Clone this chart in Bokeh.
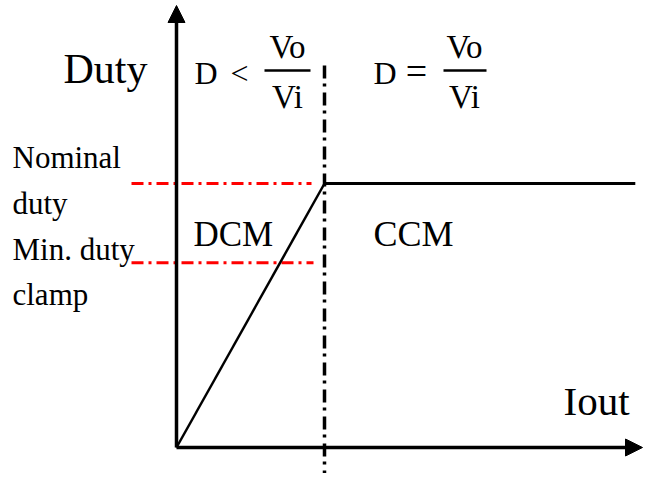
from bokeh.plotting import figure
from bokeh.models import Range1d, Arrow, NormalHead
from bokeh.core.properties import value
from bokeh.embed import file_html
from bokeh.resources import INLINE

# ---- data (normalised units) ----
iout_curve = [0.0, 1.0, 3.1]        # Iout: origin, DCM/CCM boundary, end of curve
duty_curve = [0.0, 0.6, 0.6]        # Duty rises in DCM, flat at nominal in CCM
ccm_boundary = 1.0
nominal_duty = 0.6
min_duty_clamp = 0.42
region_labels = ["DCM", "CCM"]
side_labels = ["Nominal", "duty", "Min. duty", "clamp"]

# ---- layout helpers (pixel -> data) ----
W, H = 644, 473
OX, OY = 176, 447          # origin on picture
SX, SY = 148.0, 440.0      # px per unit
def X(px): return (px - OX) / SX
def Y(py): return (OY - py) / SY

x0 = X(0); x1 = x0 + W / SX
y1 = Y(0); y0 = y1 - H / SY

p = figure(width=W, height=H, output_backend="svg", toolbar_location=None,
           x_range=Range1d(x0, x1), y_range=Range1d(y0, y1),
           x_axis_location=None, y_axis_location=None, min_border=0)
p.grid.visible = False
p.outline_line_color = None
p.background_fill_color = "white"
p.border_fill_color = "white"

FONT = value("Liberation Serif")

# red dash-dot reference lines
p.line(x=[X(131), X(311)], y=[nominal_duty] * 2, line_color="#ff0000",
       line_width=3, line_dash="12 5 3 5")
p.line(x=[X(131), X(313)], y=[min_duty_clamp] * 2, line_color="#ff0000",
       line_width=3, line_dash="12 5 3 5")

# vertical DCM/CCM boundary
p.line(x=[ccm_boundary] * 2, y=[Y(65), y0], line_color="black",
       line_width=3.5, line_dash="13 5 3 6")

# duty curve
p.line(x=iout_curve[:2], y=duty_curve[:2], line_color="black", line_width=2.5)
p.line(x=iout_curve[1:], y=duty_curve[1:], line_color="black", line_width=3)

# axes with arrows
p.add_layout(Arrow(end=NormalHead(size=17, fill_color="black", line_color="black", line_width=1),
                   x_start=0, y_start=0, x_end=0, y_end=Y(5),
                   line_color="black", line_width=3.5))
p.add_layout(Arrow(end=NormalHead(size=17, fill_color="black", line_color="black", line_width=1),
                   x_start=0, y_start=0, x_end=X(642), y_end=0,
                   line_color="black", line_width=3.5))

def txt(x_px, base_px, s, size, align="left"):
    # small empirical lift so the rendered baseline sits where intended
    p.text(x=[X(x_px)], y=[Y(base_px - 0.31 * size)], text=[s], text_font=FONT,
           text_font_size=f"{size}px", text_color="black",
           text_align=align, text_baseline="alphabetic")

# axis titles
txt(63, 82, "Duty", 42)
txt(563, 413, "Iout", 41)

# formulas
txt(194, 82, "D", 32)
txt(239, 82, "<", 32, "center")
txt(287, 57, "Vo", 33, "center")
txt(287, 107, "Vi", 33, "center")
p.line(x=[X(264), X(310)], y=[Y(70)] * 2, line_color="black", line_width=2.5)

txt(373, 82, "D", 32)
txt(416, 82, "=", 38, "center")
txt(464, 57, "Vo", 33, "center")
txt(464, 107, "Vi", 33, "center")
p.line(x=[X(443), X(486)], y=[Y(70)] * 2, line_color="black", line_width=2.5)

# region labels
txt(193, 245, region_labels[0], 35)
txt(373, 245, region_labels[1], 36)

# side labels
for s, b in zip(side_labels, [167, 213, 259, 304]):
    txt(12, b, s, 31)

open("out.html", "w").write(file_html(p, INLINE))
